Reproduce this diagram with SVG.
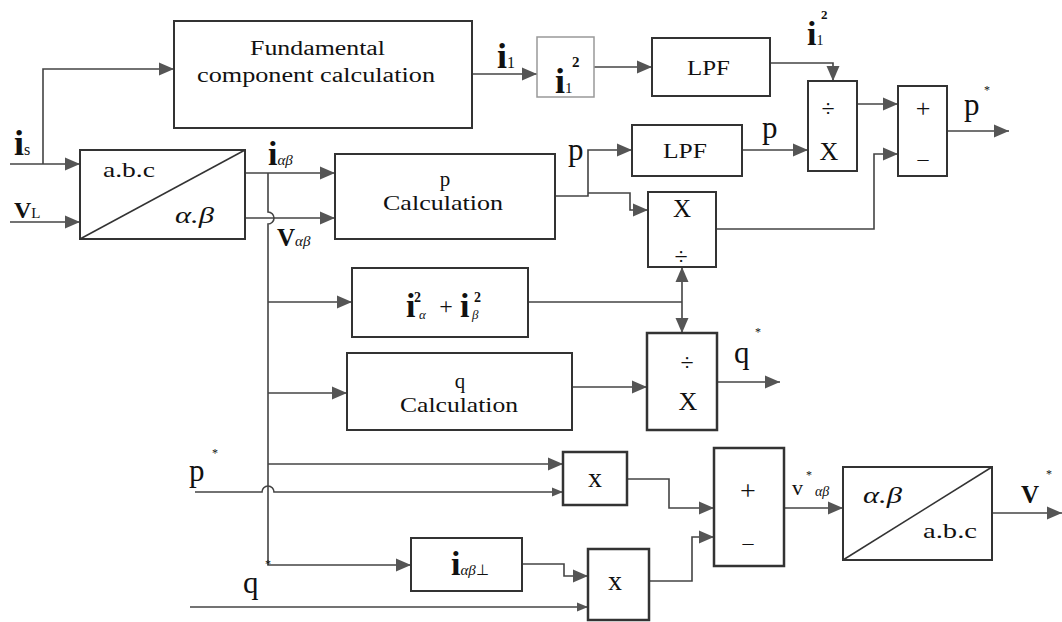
<svg xmlns="http://www.w3.org/2000/svg" width="1062" height="622" viewBox="0 0 1062 622">
<rect width="1062" height="622" fill="#fff"/>
<g id="connectors">
<g fill="none" stroke="#444" stroke-width="1.6">
<path d="M10,164 H80"/>
<path d="M43,164 V69 H174"/>
<path d="M10,222 H80"/>
<path d="M245,173 H335"/>
<path d="M245,218 H335"/>
<path d="M268,173 V212 a6,6 0 0 1 0,12 V565 H411"/>
<path d="M268,302 H352"/>
<path d="M268,393 H347"/>
<path d="M268,464 H563"/>
<path d="M195,492 H262 a6,6 0 0 1 12,0 H563"/>
<path d="M190,607 H588"/>
<path d="M472,74 H537"/>
<path d="M594,67 H652"/>
<path d="M770,63 H833 V81"/>
<path d="M555,196 H588 V150 H632"/>
<path d="M588,193 H630 V210 H648"/>
<path d="M742,150 H808"/>
<path d="M857,104 H898"/>
<path d="M716,229 H874 V154 H898"/>
<path d="M947,131 H1009"/>
<path d="M528,302 H682 M682,267 V333"/>
<path d="M572,387 H647"/>
<path d="M717,382 H780"/>
<path d="M627,479 H669 V508 H714"/>
<path d="M522,564 H564 V576 H588"/>
<path d="M649,581 H692 V537 H714"/>
<path d="M784,508 H843"/>
<path d="M992,513 H1062"/>
</g>
<g fill="#555">
<polygon points="65,157.5 80,164 65,170.5"/>
<polygon points="159,62.5 174,69 159,75.5"/>
<polygon points="65,215.5 80,222 65,228.5"/>
<polygon points="320,166.5 335,173 320,179.5"/>
<polygon points="320,211.5 335,218 320,224.5"/>
<polygon points="396,558.5 411,565 396,571.5"/>
<polygon points="337,295.5 352,302 337,308.5"/>
<polygon points="332,386.5 347,393 332,399.5"/>
<polygon points="548,457.5 563,464 548,470.5"/>
<polygon points="552,487.5 563,492 552,496.5"/>
<polygon points="577,602.5 588,607 577,611.5"/>
<polygon points="522,67.5 537,74 522,80.5"/>
<polygon points="637,60.5 652,67 637,73.5"/>
<polygon points="826.5,66 833,81 839.5,66"/>
<polygon points="617,143.5 632,150 617,156.5"/>
<polygon points="633,203.5 648,210 633,216.5"/>
<polygon points="793,143.5 808,150 793,156.5"/>
<polygon points="883,97.5 898,104 883,110.5"/>
<polygon points="883,147.5 898,154 883,160.5"/>
<polygon points="994,124.5 1009,131 994,137.5"/>
<polygon points="675.5,282 682,267 688.5,282"/>
<polygon points="675.5,318 682,333 688.5,318"/>
<polygon points="632,380.5 647,387 632,393.5"/>
<polygon points="765,375.5 780,382 765,388.5"/>
<polygon points="699,501.5 714,508 699,514.5"/>
<polygon points="573,569.5 588,576 573,582.5"/>
<polygon points="699,530.5 714,537 699,543.5"/>
<polygon points="828,501.5 843,508 828,514.5"/>
<polygon points="1047,506.5 1062,513 1047,519.5"/>
</g>
</g>
<g id="labels" fill="#111">
<text x="14" y="155" font-family="Liberation Serif" font-size="36" font-weight="bold">i<tspan font-size="16" font-weight="normal">s</tspan></text>
<text x="14" y="218" font-family="Liberation Serif" font-size="24" font-weight="bold">V<tspan font-size="15" font-weight="normal">L</tspan></text>
<text x="268" y="165" font-family="Liberation Serif" font-size="34" font-weight="bold">i<tspan font-style="italic" font-size="15" font-weight="normal">αβ</tspan></text>
<text x="277" y="246" font-family="Liberation Serif" font-size="25" font-weight="bold">V<tspan font-style="italic" font-size="15" font-weight="normal">αβ</tspan></text>
<text x="497" y="68" font-family="Liberation Serif" font-size="36" font-weight="bold">i<tspan font-size="16" font-weight="normal">1</tspan></text>
<text x="568" y="160" font-family="Liberation Serif" font-size="31">p</text>
<text x="762" y="138" font-family="Liberation Serif" font-size="31">p</text>
<text x="807" y="45" font-family="Liberation Serif" font-size="34" font-weight="bold">i<tspan font-size="14" font-weight="normal">1</tspan></text>
<text x="821" y="19" font-family="Liberation Serif" font-size="13" font-weight="bold">2</text>
<text x="964" y="115" font-family="Liberation Serif" font-size="31">p</text>
<text x="984" y="94" font-family="Liberation Serif" font-size="12">*</text>
<text x="734" y="363" font-family="Liberation Serif" font-size="31">q</text>
<text x="755" y="336" font-family="Liberation Serif" font-size="12">*</text>
<text x="189" y="481" font-family="Liberation Serif" font-size="31">p</text>
<text x="212" y="457" font-family="Liberation Serif" font-size="12">*</text>
<text x="243" y="593" font-family="Liberation Serif" font-size="31">q</text>
<text x="265" y="568" font-family="Liberation Serif" font-size="12">*</text>
<text x="792" y="495" font-family="Liberation Serif" font-size="22">v</text>
<text x="806" y="479" font-family="Liberation Serif" font-size="12">*</text>
<text x="815" y="496" font-family="Liberation Serif" font-size="14" font-style="italic">αβ</text>
<text x="1021" y="503" font-family="Liberation Serif" font-size="25" font-weight="bold">V</text>
<text x="1046" y="478" font-family="Liberation Serif" font-size="12">*</text>
</g>
<g id="fundamental" fill="#111">
<rect x="174" y="21" width="298" height="107" fill="#fff" stroke="#333" stroke-width="2"/>
<text x="250" y="55" font-family="Liberation Serif" font-size="20" textLength="135" lengthAdjust="spacingAndGlyphs">Fundamental</text>
<text x="197" y="82" font-family="Liberation Serif" font-size="20" textLength="238" lengthAdjust="spacingAndGlyphs">component calculation</text>
</g>
<g id="abc_ab" fill="#111">
<rect x="80" y="150" width="165" height="89" fill="#fff" stroke="#333" stroke-width="2"/>
<line x1="80" y1="239" x2="245" y2="150" stroke="#333" stroke-width="1.5"/>
<text x="103" y="177" font-family="Liberation Serif" font-size="21" textLength="52" lengthAdjust="spacingAndGlyphs">a.b.c</text>
<text x="175" y="223" font-family="Liberation Serif" font-style="italic" font-size="23" textLength="39" lengthAdjust="spacingAndGlyphs">α.β</text>
</g>
<g id="i1sq" fill="#111">
<rect x="537" y="37" width="57" height="60" fill="#fff" stroke="#999" stroke-width="1.5"/>
<text x="555" y="93" font-family="Liberation Serif" font-size="36" font-weight="bold">i<tspan font-size="15" font-weight="normal">1</tspan></text>
<text x="572" y="67" font-family="Liberation Serif" font-size="15" font-weight="bold">2</text>
</g>
<g id="lpf1" fill="#111">
<rect x="652" y="38" width="118" height="58" fill="#fff" stroke="#333" stroke-width="2"/>
<text x="687" y="75" font-family="Liberation Serif" font-size="21" textLength="43" lengthAdjust="spacingAndGlyphs">LPF</text>
</g>
<g id="pcalc" fill="#111">
<rect x="335" y="154" width="220" height="85" fill="#fff" stroke="#333" stroke-width="2"/>
<text x="445" y="186" font-family="Liberation Serif" font-size="21" text-anchor="middle">p</text>
<text x="383" y="210" font-family="Liberation Serif" font-size="21" textLength="120" lengthAdjust="spacingAndGlyphs">Calculation</text>
</g>
<g id="lpf2" fill="#111">
<rect x="632" y="125" width="110" height="51" fill="#fff" stroke="#333" stroke-width="2"/>
<text x="663" y="158" font-family="Liberation Serif" font-size="21" textLength="44" lengthAdjust="spacingAndGlyphs">LPF</text>
</g>
<g id="muldiv" fill="#111">
<rect x="648" y="192" width="68" height="75" fill="#fff" stroke="#333" stroke-width="2"/>
<text x="682" y="217" font-family="Liberation Serif" font-size="25" text-anchor="middle">X</text>
<text x="681" y="264" font-family="Liberation Serif" font-size="24" text-anchor="middle">÷</text>
</g>
<g id="divmul1" fill="#111">
<rect x="808" y="81" width="49" height="90" fill="#fff" stroke="#333" stroke-width="2"/>
<text x="828" y="116" font-family="Liberation Serif" font-size="24" text-anchor="middle">÷</text>
<text x="829" y="160" font-family="Liberation Serif" font-size="26" text-anchor="middle">X</text>
</g>
<g id="sum1" fill="#111">
<rect x="898" y="86" width="49" height="90" fill="#fff" stroke="#333" stroke-width="2"/>
<text x="923" y="117" font-family="Liberation Serif" font-size="26" text-anchor="middle">+</text>
<text x="923" y="166" font-family="Liberation Serif" font-size="22" text-anchor="middle">–</text>
</g>
<g id="isq" fill="#111">
<rect x="352" y="268" width="176" height="69" fill="#fff" stroke="#333" stroke-width="2"/>
<text x="406" y="317" font-family="Liberation Serif" font-size="34" font-weight="bold">i</text>
<text x="419" y="319" font-family="Liberation Serif" font-size="13" font-style="italic">α</text>
<text x="446" y="314" font-family="Liberation Serif" font-size="24" text-anchor="middle">+</text>
<text x="460" y="317" font-family="Liberation Serif" font-size="34" font-weight="bold">i</text>
<text x="472" y="319" font-family="Liberation Serif" font-size="13" font-style="italic">β</text>
<text x="414" y="302" font-family="Liberation Serif" font-size="14" font-weight="bold">2</text>
<text x="474" y="302" font-family="Liberation Serif" font-size="14" font-weight="bold">2</text>
</g>
<g id="qcalc" fill="#111">
<rect x="347" y="353" width="225" height="77" fill="#fff" stroke="#333" stroke-width="2"/>
<text x="460" y="388" font-family="Liberation Serif" font-size="21" text-anchor="middle">q</text>
<text x="400" y="412" font-family="Liberation Serif" font-size="21" textLength="118" lengthAdjust="spacingAndGlyphs">Calculation</text>
</g>
<g id="divmul2" fill="#111">
<rect x="647" y="333" width="70" height="97" fill="#fff" stroke="#333" stroke-width="2.5"/>
<text x="687" y="370" font-family="Liberation Serif" font-size="24" text-anchor="middle">÷</text>
<text x="688" y="410" font-family="Liberation Serif" font-size="26" text-anchor="middle">X</text>
</g>
<g id="xup" fill="#111">
<rect x="563" y="452" width="64" height="53" fill="#fff" stroke="#333" stroke-width="2.5"/>
<text x="595" y="487" font-family="Liberation Serif" font-size="28" text-anchor="middle">x</text>
</g>
<g id="iperp" fill="#111">
<rect x="411" y="538" width="111" height="53" fill="#fff" stroke="#333" stroke-width="2"/>
<text x="451" y="575" font-family="Liberation Serif" font-size="34" font-weight="bold">i<tspan font-style="italic" font-size="15" font-weight="normal">αβ</tspan><tspan font-size="15" font-weight="normal">⊥</tspan></text>
</g>
<g id="xlow" fill="#111">
<rect x="588" y="549" width="61" height="71" fill="#fff" stroke="#333" stroke-width="2.5"/>
<text x="615" y="590" font-family="Liberation Serif" font-size="28" text-anchor="middle">x</text>
</g>
<g id="sum2" fill="#111">
<rect x="714" y="448" width="70" height="118" fill="#fff" stroke="#333" stroke-width="2.5"/>
<text x="748" y="500" font-family="Liberation Serif" font-size="28" text-anchor="middle">+</text>
<text x="748" y="550" font-family="Liberation Serif" font-size="22" text-anchor="middle">–</text>
</g>
<g id="ab_abc" fill="#111">
<rect x="843" y="467" width="149" height="93" fill="#fff" stroke="#333" stroke-width="2"/>
<line x1="843" y1="560" x2="992" y2="467" stroke="#333" stroke-width="1.5"/>
<text x="863" y="503" font-family="Liberation Serif" font-style="italic" font-size="23" textLength="39" lengthAdjust="spacingAndGlyphs">α.β</text>
<text x="923" y="538" font-family="Liberation Serif" font-size="21" textLength="54" lengthAdjust="spacingAndGlyphs">a.b.c</text>
</g>
</svg>
